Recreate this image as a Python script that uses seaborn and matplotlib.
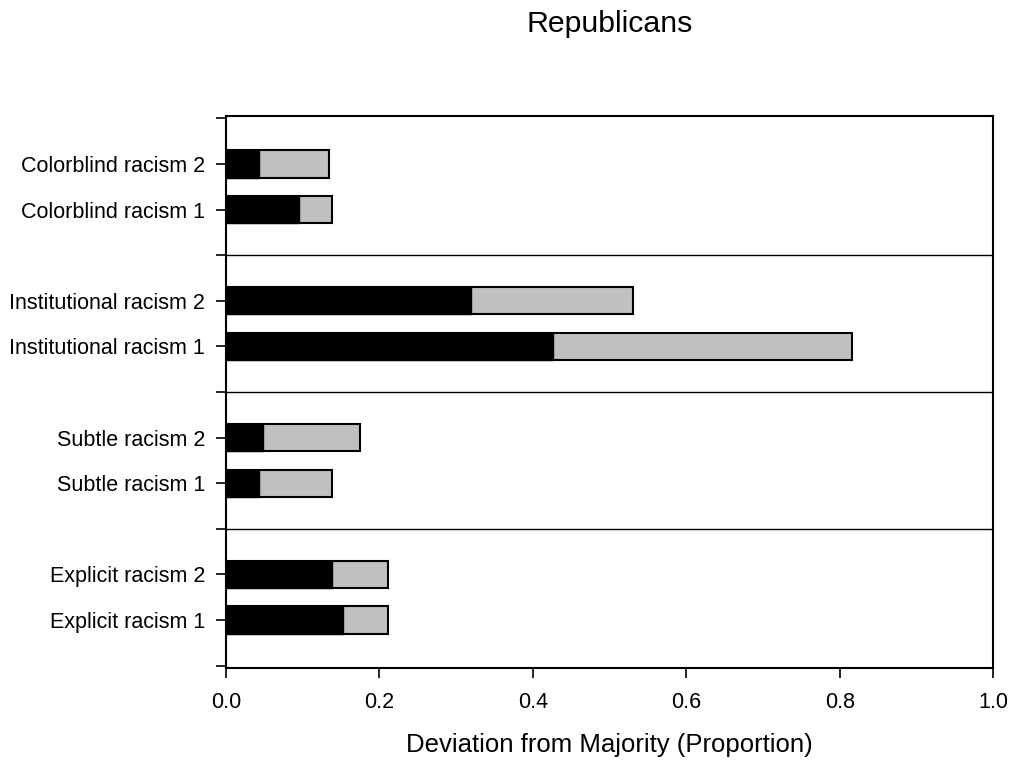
import matplotlib
matplotlib.use("Agg")
import matplotlib.pyplot as plt
import seaborn as sns
import pandas as pd

# Item labels, top to bottom; blank slots separate the four groups
categories = [
    "Colorblind racism 2", "Colorblind racism 1",
    "Institutional racism 2", "Institutional racism 1",
    "Subtle racism 2", "Subtle racism 1",
    "Explicit racism 2", "Explicit racism 1",
]
slot_order = [
    " ",
    "Colorblind racism 2", "Colorblind racism 1",
    "  ",
    "Institutional racism 2", "Institutional racism 1",
    "   ",
    "Subtle racism 2", "Subtle racism 1",
    "    ",
    "Explicit racism 2", "Explicit racism 1",
    "     ",
]

# Deviation from majority (proportion): dark segment and light segment
dark_values = [0.043, 0.095, 0.319, 0.426, 0.048, 0.043, 0.138, 0.153]
light_values = [0.091, 0.043, 0.212, 0.390, 0.127, 0.095, 0.073, 0.058]

x_ticks = [0.0, 0.2, 0.4, 0.6, 0.8, 1.0]
x_tick_labels = ["0.0", "0.2", "0.4", "0.6", "0.8", "1.0"]

sns.set_theme(style="white")
plt.rcParams["font.family"] = ["Liberation Sans", "DejaVu Sans"]
plt.rcParams["text.color"] = "black"
plt.rcParams["axes.labelcolor"] = "black"

df = pd.DataFrame({
    "item": categories,
    "dark": dark_values,
    "total": [d + l for d, l in zip(dark_values, light_values)],
})

fig = plt.figure(figsize=(10.13, 7.63), dpi=100)
ax = fig.add_axes([0.2231, 0.1245, 0.7572, 0.7235])

sns.barplot(data=df, x="total", y="item", order=slot_order, orient="h",
            color="#c0c0c0", edgecolor="black", linewidth=1.5, width=0.6,
            saturation=1, ax=ax)
sns.barplot(data=df, x="dark", y="item", order=slot_order, orient="h",
            color="black", edgecolor="black", linewidth=1.0, width=0.6,
            saturation=1, ax=ax)

# group separators
for y in (3, 6, 9):
    ax.axhline(y, color="black", linewidth=1.0)

ax.set_xlim(0, 1.0)
ax.set_ylim(12.05, -0.05)
ax.set_xticks(x_ticks)
ax.set_xticklabels(x_tick_labels)
ax.set_xlabel("Deviation from Majority (Proportion)", fontsize=18.5,
              labelpad=15, color="black")
ax.set_ylabel("")

fig.text(0.6017, 0.9585, "Republicans", fontsize=21.8, ha="center",
         va="baseline", color="black")

for side in ("left", "right", "top", "bottom"):
    ax.spines[side].set_visible(True)
    ax.spines[side].set_color("black")
    ax.spines[side].set_linewidth(1.5)

ax.tick_params(axis="both", which="major", direction="out", length=7,
               width=1.2, color="black", labelsize=15.5, left=True,
               bottom=True, labelcolor="black")
ax.tick_params(axis="y", pad=8)
ax.tick_params(axis="x", pad=10)

fig.savefig("out.png", dpi=100, facecolor="white")
